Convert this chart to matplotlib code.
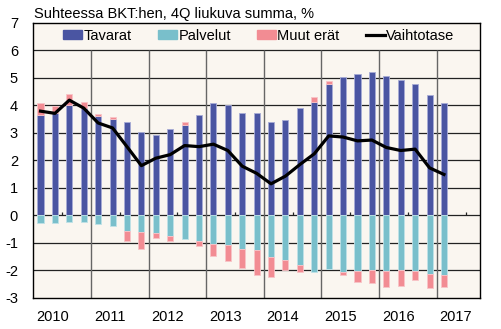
import numpy as np
import matplotlib
matplotlib.use("Agg")
import matplotlib.pyplot as plt
from matplotlib.patches import Patch
from matplotlib.lines import Line2D

plt.rcParams['font.family'] = ['Liberation Sans', 'DejaVu Sans']

# Quarterly data 2010Q1 .. 2017Q1, % of GDP, 4-quarter moving sum
quarters = [f"{y}Q{q}" for y in range(2010, 2018) for q in range(1, 5)][:29]
tavarat = [3.64, 3.73, 4.00, 3.88, 3.59, 3.48, 3.39, 3.04,
           2.90, 3.14, 3.27, 3.63, 4.07, 4.00, 3.72, 3.71,
           3.39, 3.46, 3.90, 4.13, 4.78, 5.02, 5.12, 5.19,
           5.06, 4.93, 4.76, 4.35, 4.08]
palvelut = [-0.29, -0.28, -0.23, -0.25, -0.33, -0.40, -0.57, -0.61,
            -0.65, -0.75, -0.86, -0.94, -1.04, -1.10, -1.24, -1.28,
            -1.53, -1.64, -1.82, -2.05, -1.95, -2.05, -2.02, -1.98,
            -2.02, -1.99, -2.02, -2.14, -2.18]
muut = [0.42, 0.22, 0.40, 0.24, 0.08, 0.07, -0.37, -0.62,
        -0.19, -0.19, 0.13, -0.17, -0.44, -0.56, -0.68, -0.89,
        -0.72, -0.37, -0.23, 0.16, 0.08, -0.12, -0.39, -0.47,
        -0.58, -0.60, -0.34, -0.49, -0.43]
vaihtotase = [3.78, 3.70, 4.18, 3.89, 3.35, 3.17, 2.49, 1.80,
              2.07, 2.20, 2.53, 2.49, 2.58, 2.35, 1.78, 1.52,
              1.14, 1.42, 1.84, 2.23, 2.88, 2.84, 2.70, 2.73,
              2.46, 2.35, 2.40, 1.72, 1.48]
years = ["2010", "2011", "2012", "2013", "2014", "2015", "2016", "2017"]
yticks = [-3, -2, -1, 0, 1, 2, 3, 4, 5, 6, 7]

c_tav = "#4a55a2"
c_pal = "#79bfcb"
c_muu = "#f28c93"
bg = "#faf6f0"

fig = plt.figure(figsize=(5.01, 3.29), dpi=100)
ax = fig.add_axes([0.0665, 0.095, 0.8915, 0.8365])
ax.set_facecolor(bg)

x = np.arange(len(quarters))
tav = np.array(tavarat)
pal = np.array(palvelut)
muu = np.array(muut)
muu_bottom = np.where(muu >= 0, tav, pal)

w = 0.42
ax.bar(x, tav, width=w, color=c_tav, edgecolor="#a7acd6", linewidth=0.6, zorder=3)
ax.bar(x, pal, width=w, color=c_pal, edgecolor="#bfe2e7", linewidth=0.6, zorder=3)
ax.bar(x, muu, bottom=muu_bottom, width=w, color=c_muu, edgecolor="#f8c4c8",
       linewidth=0.6, zorder=3)
ax.plot(x, vaihtotase, color="black", lw=2.3, zorder=4, solid_joinstyle="round")

ax.set_xlim(-0.5, 30.5)
ax.set_ylim(-3, 7)

# grid: horizontal lines at each integer, vertical lines at year boundaries
for v in range(-2, 7):
    ax.axhline(v, color="#222222", lw=0.9, zorder=1)
ax.vlines(np.arange(3.5, 30, 4), -3, 6, color="#666666", lw=1.0, zorder=1)
# small marks at mid-year on the zero line
ax.vlines(np.arange(1.5, 31, 4), 0, 0.1, color="#222222", lw=0.9, zorder=2)

ax.set_yticks(yticks)
ax.set_yticklabels([str(t) for t in yticks], fontsize=10.5)
year_pos = [0.83 + 4 * i for i in range(len(years))]
ax.set_xticks(year_pos)
ax.set_xticklabels(years, fontsize=10.5)
ax.tick_params(axis="both", length=0)
ax.tick_params(axis="y", pad=11)
ax.tick_params(axis="x", pad=9)
for s in ax.spines.values():
    s.set_color("black")
    s.set_linewidth(1.0)

fig.text(0.068, 0.957, "Suhteessa BKT:hen, 4Q liukuva summa, %", fontsize=10.5,
         ha="left", va="center")

handles = [Patch(color=c_tav), Patch(color=c_pal), Patch(color=c_muu),
           Line2D([0], [0], color="black", lw=2.3)]
labels = ["Tavarat", "Palvelut", "Muut erät", "Vaihtotase"]
ax.legend(handles, labels, ncol=4, loc="upper center", bbox_to_anchor=(0.505, 1.015),
          frameon=False, fontsize=10.5, handlelength=1.3, handleheight=0.5,
          handletextpad=0.1, columnspacing=1.8, borderaxespad=0.3)

fig.savefig("out.png", dpi=100)
